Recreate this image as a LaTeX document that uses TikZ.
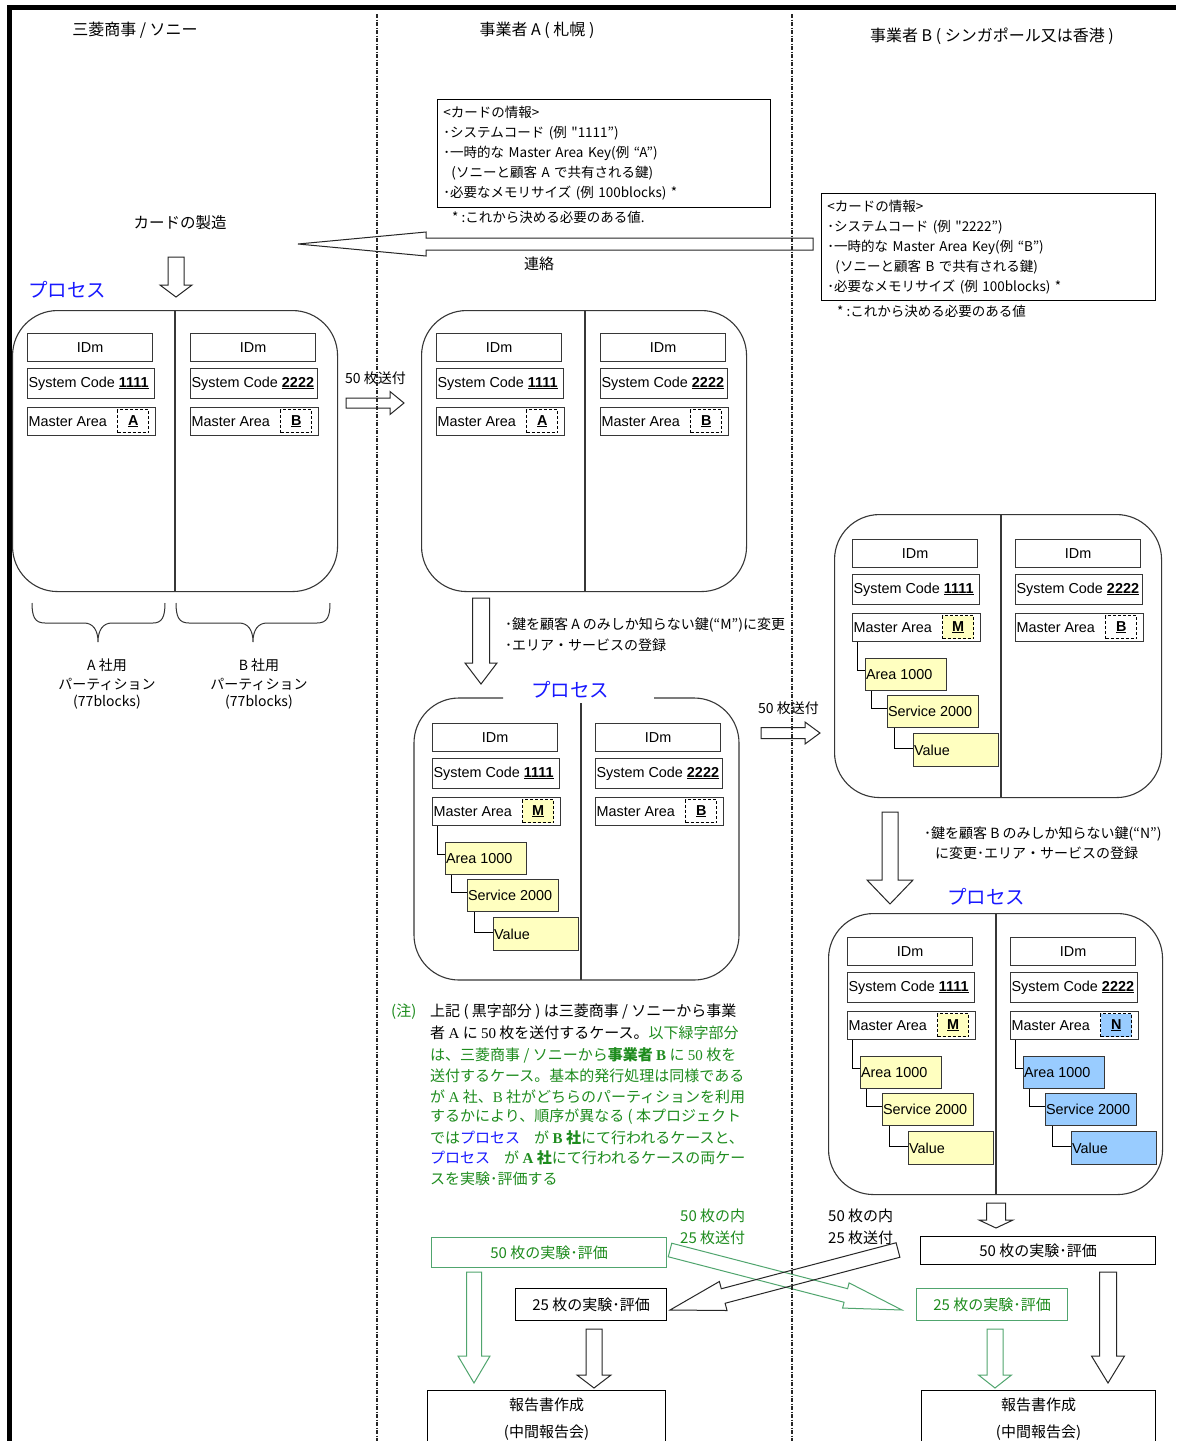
\documentclass[tikz,border=0pt]{standalone}
\usepackage{fontspec}
\setmainfont{Liberation Sans}
\newfontfamily\jp{Noto Sans CJK JP}
\newfontfamily\ser{Liberation Serif}
\usetikzlibrary{calc}

\definecolor{procblue}{RGB}{25,25,255}
\definecolor{notegreen}{RGB}{30,140,30}
\definecolor{linegreen}{RGB}{80,165,110}
\definecolor{keyyellow}{RGB}{255,255,192}
\definecolor{keyblue}{RGB}{153,204,255}
\definecolor{edge}{RGB}{55,55,55}

% hollow block arrow from coordinate #2 to coordinate #3
% #4 body half width, #5 head half width, #6 head length
\newcommand\blockarrow[6]{%
  \path (#2); \pgfgetlastxy{\baAx}{\baAy}%
  \path (#3); \pgfgetlastxy{\baBx}{\baBy}%
  \pgfmathsetmacro\baAng{atan2(\baBy-\baAy,\baBx-\baAx)}%
  \pgfmathsetmacro\baLen{veclen(\baBx-\baAx,\baBy-\baAy)}%
  \draw[#1, shift={(#2)}, rotate=\baAng]
    (0,#4) -- (\baLen-#6,#4) -- (\baLen-#6,#5) -- (\baLen,0)
    -- (\baLen-#6,-#5) -- (\baLen-#6,-#4) -- (0,-#4) -- cycle;
}

% one partition: IDm, system code and master area with its key
\newcommand\cardcol[6]{%
  \node[cell, minimum width=125, minimum height=28] (#1id) at (#2,#3) {IDm};
  \node[cell, minimum width=127, minimum height=30] (#1sc) at (#2,#3+35)
    {\makebox[125pt][l]{System Code \underline{\textbf{#4}}}};
  \node[cell, minimum width=128, minimum height=28] (#1ma) at (#2,#3+74)
    {\makebox[126pt][l]{Master Area}};
  \node[keybox, fill=#6] (#1key) at (#2+90,#3+76) {\underline{#5}};
}

% area / service / value hierarchy below a master area
\newcommand\areatree[4]{%
  \node[cell, fill=#4, minimum width=81, minimum height=32] (#1ar) at (#2+13,#3+119)
    {\makebox[80pt][l]{Area 1000}};
  \node[cell, fill=#4, minimum width=91, minimum height=32] (#1sv) at (#2+35,#3+156)
    {\makebox[90pt][l]{Service 2000}};
  \node[cell, fill=#4, minimum width=85, minimum height=33] (#1va) at (#2+61,#3+194)
    {\makebox[84pt][l]{Value}};
  \draw[tree] ([xshift=5pt]#1ma.south west) |- ([yshift=4pt]#1ar.west);
  \draw[tree] ([xshift=6pt]#1ar.south west) |- ([yshift=3pt]#1sv.west);
  \draw[tree] ([xshift=7pt]#1sv.south west) |- ([yshift=2pt]#1va.west);
}

\begin{document}
\begin{tikzpicture}[x=1pt,y=-1pt,
  cell/.style={draw=edge, line width=1.1pt, anchor=north west, inner sep=0pt,
    font=\fontsize{14.4}{16}\selectfont},
  keybox/.style={draw=black, line width=1.4pt, dash pattern=on 3pt off 2pt,
    anchor=north west, inner sep=0pt, minimum width=31, minimum height=23,
    font=\fontsize{14.4}{16}\selectfont\bfseries},
  partbox/.style={draw=edge, line width=1.1pt, rounded corners=45pt},
  divider/.style={draw=edge, line width=1.1pt},
  tree/.style={draw=black, line width=1pt},
  txt/.style={inner sep=0pt, font=\jp\fontsize{#1}{#1}\selectfont},
  txt/.default=14,
  proc/.style={inner sep=0pt, text=procblue, font=\jp\fontsize{19.5}{20}\selectfont},
  hollow/.style={draw=black!85, line width=1pt},
  ghollow/.style={draw=linegreen, line width=1pt},
  brace/.style={draw=black!80, line width=1pt},
  lane/.style={draw=black!85, line width=1.2pt, dash pattern=on 4pt off 1.5pt on 1pt off 1.5pt},
  plainbox/.style={draw=black, line width=1pt, anchor=north west, inner sep=0pt},
]
\useasboundingbox (0,0) rectangle (1176,1441);
\clip (0,0) rectangle (1176,1441);
\fill[white] (0,0) rectangle (1176,1441);

% ---------- column headings ----------
\node[txt=16] (h1) at (135,30) {三菱商事 / ソニー};
\node[txt=16] (h2) at (537,30) {事業者 A ( 札幌 )};
\node[txt=16] (h3) at (992,36) {事業者 B ( シンガポール又は香港 )};

% ---------- card information ----------
\node[draw=black, line width=0.9pt, anchor=north west, minimum height=108,
  inner xsep=6pt, inner ysep=5pt, text width=321, align=left,
  font=\jp\fontsize{13.5}{20}\selectfont] (infoA) at (437,99) {%
  <カードの情報>\\
  ･システムコード (例 "1111”)\\
  ･一時的な Master Area Key(例 “A”)\\
  \hspace*{8pt}(ソニーと顧客 A で共有される鍵)\\
  ･必要なメモリサイズ (例 100blocks) *};
\node[txt=13.5, anchor=west] (fnA) at (452,217) {* :これから決める必要のある値.};

\node[draw=black, line width=0.9pt, anchor=north west, minimum height=107,
  inner xsep=6pt, inner ysep=5pt, text width=322, align=left,
  font=\jp\fontsize{13.5}{20}\selectfont] (infoB) at (821,193) {%
  <カードの情報>\\
  ･システムコード (例 "2222”)\\
  ･一時的な Master Area Key(例 “B”)\\
  \hspace*{8pt}(ソニーと顧客 B で共有される鍵)\\
  ･必要なメモリサイズ (例 100blocks) *};
\node[txt=13.5, anchor=west] (fnB) at (837,311) {* :これから決める必要のある値};

% ---------- card manufacture ----------
\node[txt=15.5] (make) at (180,223) {カードの製造};
\coordinate (rs) at (813,244);
\coordinate (re) at (298,244);
\blockarrow{hollow}{rs}{re}{6}{12}{128}
\node[txt=15] (renraku) at (539,264) {連絡};

\coordinate (m1s) at (176,257);
\coordinate (m1e) at (176,297);
\blockarrow{hollow}{m1s}{m1e}{8}{16}{12}
\node[proc, anchor=west] (procL) at (28,290) {プロセス};

% ---------- partitions at manufacture ----------
\node[partbox, anchor=north west, minimum width=325, minimum height=281] (boxL) at (12,310) {};
\draw[divider] (175,310) -- (175,591);
\cardcol{la}{27}{333}{1111}{A}{white}
\cardcol{lb}{190}{333}{2222}{B}{white}

\draw[brace] (32,603) .. controls (32,617) and (35,623) .. (45,623) -- (84,623)
  .. controls (93,623) and (98,630) .. (98,642)
  .. controls (98,630) and (103,623) .. (112,623) -- (153,623)
  .. controls (162,623) and (165,617) .. (165,603);
\draw[brace] (176,603) .. controls (176,617) and (179,623) .. (189,623) -- (239,623)
  .. controls (248,623) and (253,630) .. (253,642)
  .. controls (253,630) and (258,623) .. (267,623) -- (317,623)
  .. controls (327,623) and (330,617) .. (330,603);
\node[txt=14] (pa1) at (107,665) {A 社用};
\node[txt=14] (pa2) at (107,684) {パーティション};
\node[txt=14] (pa3) at (107,702) {(77blocks)};
\node[txt=14] (pb1) at (259,665) {B 社用};
\node[txt=14] (pb2) at (259,684) {パーティション};
\node[txt=14] (pb3) at (259,702) {(77blocks)};

% ---------- shipment to operator A ----------
\node[txt=14, anchor=west] (ship1) at (345,378) {50 枚送付};
\coordinate (s1s) at (346,403);
\coordinate (s1e) at (404,403);
\blockarrow{hollow}{s1s}{s1e}{5}{11.5}{14}

\node[partbox, anchor=north west, minimum width=325, minimum height=281] (boxA) at (421,310) {};
\draw[divider] (585,310) -- (585,591);
\cardcol{aa}{436}{333}{1111}{A}{white}
\cardcol{ab}{600}{333}{2222}{B}{white}

\coordinate (d1s) at (481,598);
\coordinate (d1e) at (481,684);
\blockarrow{hollow}{d1s}{d1e}{8.5}{16}{21}
\node[txt=14, anchor=west] (keyA1) at (505,625) {･鍵を顧客 A のみしか知らない鍵(“M”)に変更};
\node[txt=14, anchor=west] (keyA2) at (505,645) {･エリア・サービスの登録};

\node[proc] (procA) at (570,690) {プロセス};
\draw[partbox] (503,698) -- (414,698) -- (414,980) -- (739,980) -- (739,698) -- (654,698);
\draw[divider] (581,703) -- (581,980);
\cardcol{ma}{432}{723}{1111}{M}{keyyellow}
\cardcol{mb}{595}{723}{2222}{B}{white}
\areatree{ma}{432}{723}{keyyellow}

% ---------- shipment to operator B ----------
\node[txt=14, anchor=west] (ship2) at (758,708) {50 枚送付};
\coordinate (s2s) at (761,733);
\coordinate (s2e) at (820,733);
\blockarrow{hollow}{s2s}{s2e}{5.5}{11}{15}

\node[partbox, anchor=north west, minimum width=327, minimum height=283] (boxB1) at (834,514) {};
\draw[divider] (1001,514) -- (1001,797);
\cardcol{ba}{852}{539}{1111}{M}{keyyellow}
\cardcol{bb}{1015}{539}{2222}{B}{white}
\areatree{ba}{852}{539}{keyyellow}

\coordinate (d2s) at (890,812);
\coordinate (d2e) at (890,904);
\blockarrow{hollow}{d2s}{d2e}{8}{23}{24}
\node[txt=14, anchor=west] (keyB1) at (924,834) {･鍵を顧客 B のみしか知らない鍵(“N”)};
\node[txt=14, anchor=west] (keyB2) at (935,853) {に変更･エリア・サービスの登録};

\node[proc] (procB) at (986,897) {プロセス};
\node[partbox, anchor=north west, minimum width=334, minimum height=281] (boxB2) at (828,913) {};
\draw[divider] (996,913) -- (996,1194);
\cardcol{ca}{847}{937}{1111}{M}{keyyellow}
\cardcol{cb}{1010}{937}{2222}{N}{keyblue}
\areatree{ca}{847}{937}{keyyellow}
\areatree{cb}{1010}{937}{keyblue}

% ---------- note ----------
\node[txt=15, anchor=west, text=notegreen] (nt0) at (391,1012) {(注)};
\begin{scope}[every node/.style={txt=15, anchor=west, text=notegreen}]
\node (nt1) at (430,1012) {{\color{black}上記 ( 黒字部分 ) は三菱商事 / ソニーから事業}};
\node (nt2) at (430,1033) {{\color{black}者 {\ser A} に {\ser 50} 枚を送付するケース。}以下緑字部分};
\node (nt3) at (430,1055) {は、三菱商事 / ソニーから{\bfseries 事業者 {\ser B}} に {\ser 50} 枚を};
\node (nt4) at (430,1076) {送付するケース。基本的発行処理は同様である};
\node (nt5) at (430,1097) {が {\ser A} 社、{\ser B} 社がどちらのパーティションを利用};
\node (nt6) at (430,1117) {するかにより、順序が異なる ( 本プロジェクト};
\node (nt7) at (430,1138) {では{\color{procblue}プロセス}\hspace{14pt}が {\bfseries {\ser B} 社}にて行われるケースと、};
\node (nt8) at (430,1158) {{\color{procblue}プロセス}\hspace{14pt}が {\bfseries {\ser A} 社}にて行われるケースの両ケー};
\node (nt9) at (430,1179) {スを実験･評価する};
\end{scope}

% ---------- evaluation ----------
\node[txt=15, anchor=west, text=notegreen] (gq1) at (680,1216) {50 枚の内};
\node[txt=15, anchor=west, text=notegreen] (gq2) at (680,1238) {25 枚送付};
\node[txt=15, anchor=west] (bq1) at (828,1216) {50 枚の内};
\node[txt=15, anchor=west] (bq2) at (828,1238) {25 枚送付};

\coordinate (d3s) at (996,1203);
\coordinate (d3e) at (996,1228);
\blockarrow{hollow}{d3s}{d3e}{9.5}{17}{8}

\node[plainbox, draw=linegreen, minimum width=235, minimum height=30, txt=15, text=notegreen] (g50) at (431,1237) {50 枚の実験･評価};
\node[plainbox, minimum width=235, minimum height=28, txt=15] (b50) at (920,1236) {50 枚の実験･評価};
\node[plainbox, minimum width=151, minimum height=32, txt=15] (b25) at (515,1288) {25 枚の実験･評価};
\node[plainbox, draw=linegreen, minimum width=151, minimum height=32, txt=15, text=notegreen] (g25) at (916,1288) {25 枚の実験･評価};

\coordinate (xgs) at (670,1250);
\coordinate (xge) at (902,1310);
\blockarrow{ghollow}{xgs}{xge}{7}{13}{58}
\coordinate (xbs) at (898,1250);
\coordinate (xbe) at (670,1310);
\blockarrow{hollow}{xbs}{xbe}{7.5}{15}{55}

\coordinate (g1s) at (474,1272);
\coordinate (g1e) at (474,1383);
\blockarrow{ghollow}{g1s}{g1e}{7.5}{16}{27}
\coordinate (k1s) at (594,1329);
\coordinate (k1e) at (594,1388);
\blockarrow{hollow}{k1s}{k1e}{8}{17}{13}
\coordinate (g2s) at (995,1329);
\coordinate (g2e) at (995,1388);
\blockarrow{ghollow}{g2s}{g2e}{8}{16.5}{13}
\coordinate (k2s) at (1108,1272);
\coordinate (k2e) at (1108,1383);
\blockarrow{hollow}{k2s}{k2e}{8.5}{16.5}{27}

\node[plainbox, minimum width=238, minimum height=57, align=center,
  font=\jp\fontsize{15}{27}\selectfont] (rep1) at (427,1390) {報告書作成\\(中間報告会)};
\node[plainbox, minimum width=234, minimum height=57, align=center,
  font=\jp\fontsize{15}{27}\selectfont] (rep2) at (921,1390) {報告書作成\\(中間報告会)};

% ---------- lanes and frame ----------
\draw[lane] (377,14) -- (377,1441);
\draw[lane] (792,14) -- (792,1441);
\draw[line width=5pt] (8,7.5) -- (1176,7.5);
\draw[line width=4.5pt] (9.5,5) -- (9.5,1441);
\end{tikzpicture}
\end{document}
